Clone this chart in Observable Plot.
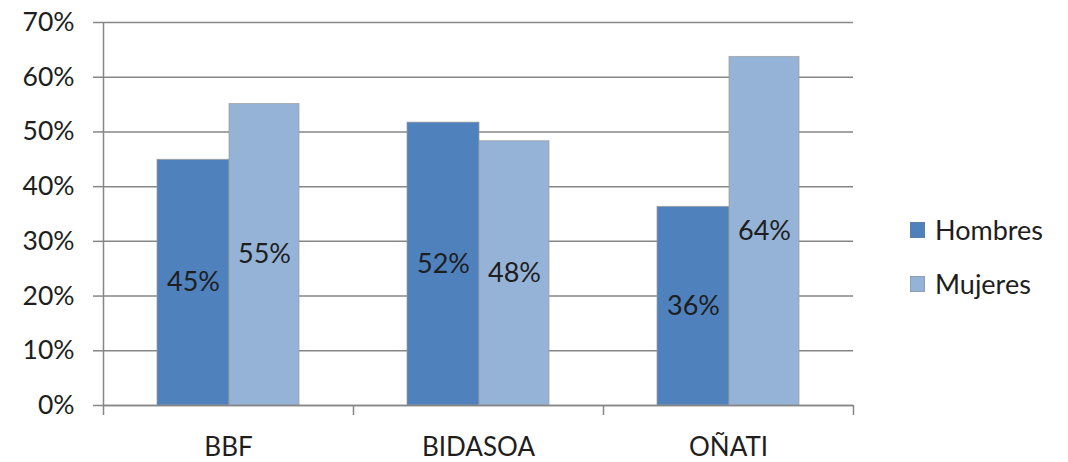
<!DOCTYPE html>
<html>
<head>
<meta charset="utf-8">
<script src="https://cdn.jsdelivr.net/npm/d3@7"></script>
<script src="https://cdn.jsdelivr.net/npm/@observablehq/plot@0.6"></script>
<style>
  body { margin: 0; background: #fff; }
  #chart { position: relative; width: 1068px; height: 462px; font-family: Lato, sans-serif; color: #1e1e1e; }
  #chart svg { display: block; }
  .legend { position: absolute; left: 910px; top: 217px; }
  .legend .row { display: flex; align-items: center; height: 26px; margin-bottom: 28px; font-size: 27px; line-height: 26px; }
  .legend .sw { width: 15px; height: 16px; margin-right: 10px; box-sizing: border-box; border: 1px solid rgba(120,120,120,0.35); }
</style>
</head>
<body>
<div id="chart"></div>
<script>
// Share of men and women per area
const regions = ["BBF", "BIDASOA", "OÑATI"];
const series = ["Hombres", "Mujeres"];
const hombres = [0.449, 0.517, 0.363];
const mujeres = [0.551, 0.483, 0.637];
const yTicks = [0, 0.1, 0.2, 0.3, 0.4, 0.5, 0.6, 0.7];
const colors = ["#4F81BD", "#95B3D7"];

const rows = regions.flatMap((region, i) => [
  {region, serie: series[0], value: hombres[i]},
  {region, serie: series[1], value: mujeres[i]}
]);

const pct = d3.format(".0%");
const lineColor = "#868686";
const textColor = "#1e1e1e";

// bar placement inside each 250px category band
const band = 250, half = band / 2;
const barLayout = {
  Hombres: {insetLeft: 54, insetRight: 124, dx: -35},
  Mujeres: {insetLeft: 126, insetRight: 54, dx: 36}
};

const chart = Plot.plot({
  width: 1068,
  height: 462,
  marginLeft: 103,
  marginRight: 215,
  marginTop: 22,
  marginBottom: 57,
  style: {fontFamily: "Lato, sans-serif", background: "white", color: textColor},
  x: {domain: regions, padding: 0, label: null},
  y: {domain: [0, 0.7], label: null},
  color: {domain: series, range: colors},
  marks: [
    Plot.gridY(yTicks, {stroke: lineColor, strokeOpacity: 1, strokeWidth: 1.5}),
    Plot.axisY(yTicks, {
      tickFormat: pct, tickSize: 10, tickPadding: 19, fontSize: 26.5,
      stroke: lineColor, strokeWidth: 1.5, label: null
    }),
    ...series.map(s => Plot.barY(rows.filter(d => d.serie === s), {
      x: "region", y: "value", fill: "serie",
      insetLeft: barLayout[s].insetLeft, insetRight: barLayout[s].insetRight,
      stroke: "#9a9a9a", strokeOpacity: 0.7, strokeWidth: 1
    })),
    Plot.ruleY([0], {stroke: lineColor, strokeWidth: 1.5}),
    // vertical axis line and category separators
    Plot.ruleX([regions[0]], {dx: -half, y1: 0.7, y2: 0, insetBottom: -10, stroke: lineColor, strokeWidth: 1.5}),
    Plot.ruleX(regions, {dx: half, y1: 0, y2: 0, insetBottom: -10, stroke: lineColor, strokeWidth: 1.5}),
    ...series.map(s => Plot.text(rows.filter(d => d.serie === s), {
      x: "region", y: d => d.value / 2, text: d => pct(d.value),
      dx: barLayout[s].dx, fontSize: 27, fill: textColor
    })),
    Plot.axisX({tickSize: 0, tickPadding: 32, fontSize: 26, label: null})
  ]
});

const root = d3.select("#chart");
root.node().appendChild(chart);

const legend = root.append("div").attr("class", "legend");
series.forEach((s, i) => {
  const row = legend.append("div").attr("class", "row");
  row.append("div").attr("class", "sw").style("background", colors[i]);
  row.append("span").text(s);
});
</script>
</body>
</html>
